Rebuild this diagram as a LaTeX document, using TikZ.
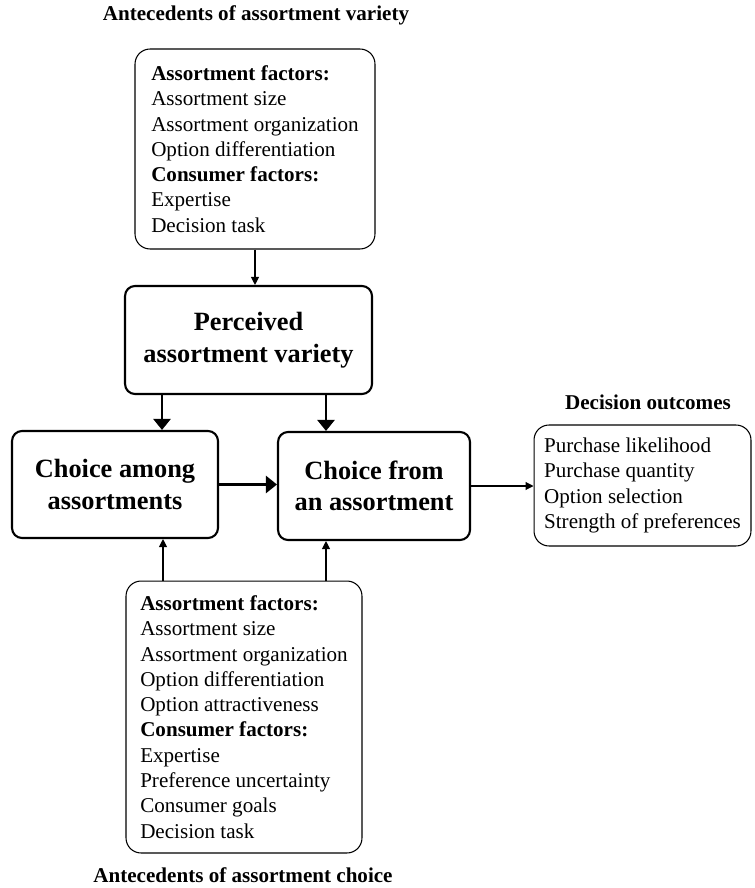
\documentclass[tikz,border=0pt]{standalone}
\usepackage{fontspec}
\setmainfont{Liberation Serif}
\usetikzlibrary{arrows.meta}

\begin{document}
\begin{tikzpicture}[x=0.02cm, y=-0.02cm,
  mainbox/.style={draw, line width=1.2pt, rounded corners=0.2cm, align=center,
    font=\fontsize{15}{18}\selectfont\bfseries},
  factbox/.style={draw, line width=0.6pt, rounded corners=0.3cm, align=left,
    font=\fontsize{12}{14.4}\selectfont},
  ttl/.style={font=\fontsize{12}{14.4}\selectfont\bfseries},
  thinarr/.style={line width=0.6pt, -{Triangle[length=0.16cm, width=0.16cm]}},
  thickarr/.style={line width=1.4pt, -{Triangle[length=0.22cm, width=0.34cm]}}]
\useasboundingbox (0,0) rectangle (754,888);
\node[ttl] (varttl) at (256,15) {Antecedents of assortment variety};
\node[factbox, minimum width=4.8cm, minimum height=4cm] (varfac) at (255,149)
  {\textbf{Assortment factors:}\\Assortment size\\Assortment organization\\
   Option differentiation\\\textbf{Consumer factors:}\\Expertise\\Decision task};
\node[mainbox, minimum width=4.94cm, minimum height=2.16cm] (perc) at (248.5,340)
  {Perceived\\assortment variety};
\node[mainbox, minimum width=4.12cm, minimum height=2.14cm] (among) at (115,484.5)
  {Choice among\\assortments};
\node[mainbox, minimum width=3.84cm, minimum height=2.16cm] (from) at (374,486)
  {Choice from\\an assortment};
\node[ttl] (outttl) at (648,402) {Decision outcomes};
\node[factbox, minimum width=4.34cm, minimum height=2.42cm] (outbox) at (642.5,485.5)
  {Purchase likelihood\\Purchase quantity\\Option selection\\Strength of preferences};
\node[factbox, minimum width=4.72cm, minimum height=5.44cm] (chofac) at (244,717)
  {\textbf{Assortment factors:}\\Assortment size\\Assortment organization\\
   Option differentiation\\Option attractiveness\\\textbf{Consumer factors:}\\
   Expertise\\Preference uncertainty\\Consumer goals\\Decision task};
\node[ttl] (chottl) at (243,875) {Antecedents of assortment choice};
% arrows
\draw[thinarr] (varfac.south) -- (varfac.south |- perc.north);
\draw[thickarr] (perc.south -| 162,0) -- (among.north -| 162,0);
\draw[thickarr] (perc.south -| 326,0) -- (from.north -| 326,0);
\draw[thickarr] (among.east) -- (among.east -| from.west);
\draw[thinarr] (from.east) -- (from.east -| outbox.west);
\draw[thinarr] (chofac.north -| 163,0) -- (among.south -| 163,0);
\draw[thinarr] (chofac.north -| 326,0) -- (from.south -| 326,0);
\end{tikzpicture}
\end{document}
